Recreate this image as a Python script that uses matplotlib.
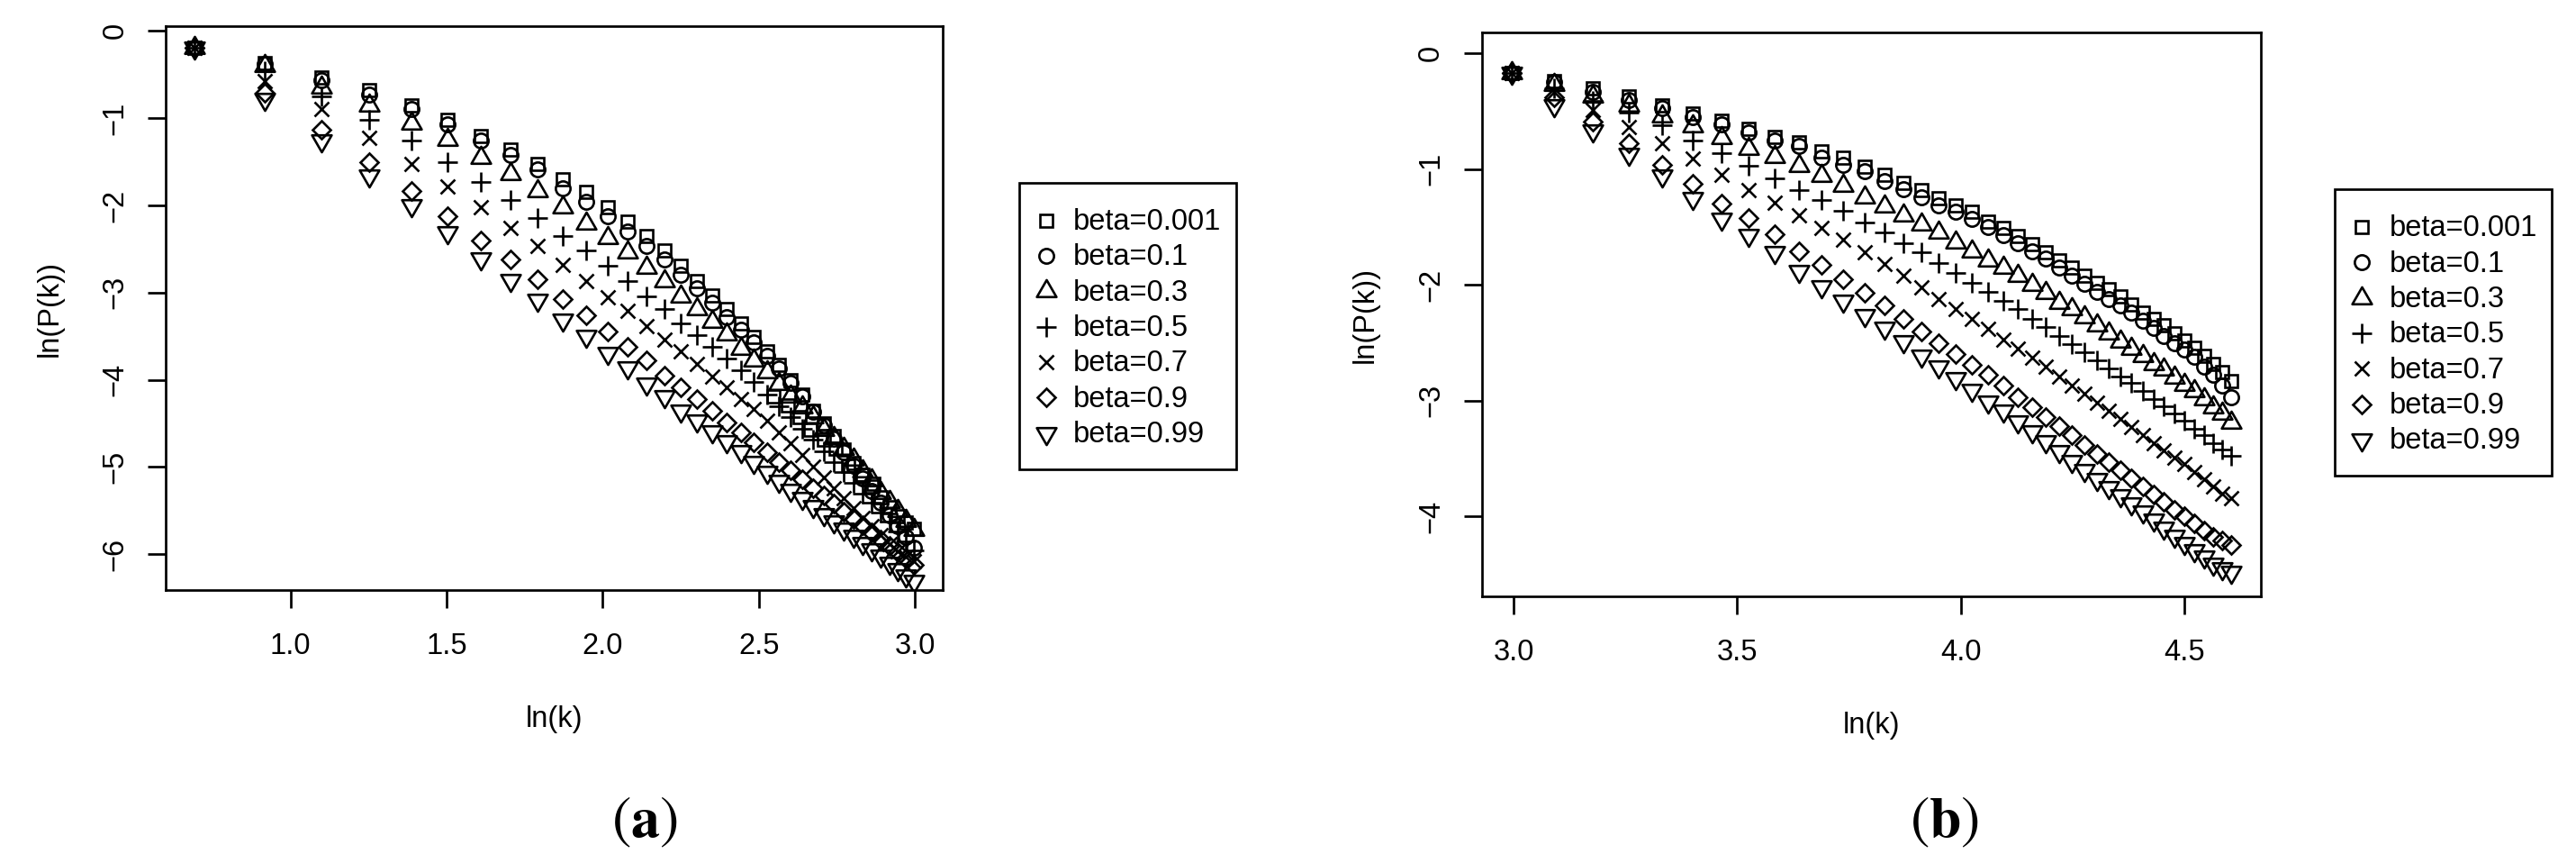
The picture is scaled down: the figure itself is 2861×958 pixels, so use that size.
import numpy as np
import matplotlib
matplotlib.use("Agg")
import matplotlib.pyplot as plt
from matplotlib.lines import Line2D
from matplotlib.patches import Rectangle
from matplotlib.path import Path

plt.rcParams["font.family"] = ["Liberation Sans", "DejaVu Sans"]
plt.rcParams["mathtext.fontset"] = "stix"

W, H, DPI = 2861, 958, 100
FS = 23.5

LABELS = ["beta=0.001", "beta=0.1", "beta=0.3", "beta=0.5",
          "beta=0.7", "beta=0.9", "beta=0.99"]

# ---- panel (a): k = 2 .. 20 ----
K_A = [2, 2.5, 3, 3.5, 4, 4.5, 5, 5.5, 6, 6.5, 7, 7.5, 8, 8.5, 9, 9.5, 10,
       10.5, 11, 11.5, 12, 12.5, 13, 13.5, 14, 14.5, 15, 15.5, 16, 16.5, 17,
       17.5, 18, 18.5, 19, 19.5, 20]
SQ_A = [-0.19, -0.37, -0.53, -0.68, -0.85, -1.02, -1.20, -1.36, -1.52, -1.70,
        -1.85, -2.02, -2.19, -2.35, -2.52, -2.69, -2.87, -3.03, -3.19, -3.35,
        -3.51, -3.67, -3.83, -4.00, -4.17, -4.35, -4.50, -4.64, -4.80, -4.95,
        -5.09, -5.22, -5.35, -5.46, -5.56, -5.64, -5.71]
CI_A = [-0.19, -0.38, -0.56, -0.73, -0.90, -1.07, -1.26, -1.42, -1.59, -1.80,
        -1.96, -2.12, -2.30, -2.47, -2.62, -2.80, -2.95, -3.12, -3.28, -3.43,
        -3.57, -3.72, -3.87, -4.03, -4.19, -4.36, -4.52, -4.67, -4.83, -4.98,
        -5.13, -5.27, -5.41, -5.55, -5.68, -5.80, -5.92]
TR_A = [-0.19, -0.40, -0.645, -0.85, -1.06, -1.25, -1.45, -1.64, -1.83, -2.02,
        -2.21, -2.37, -2.54, -2.71, -2.87, -3.04, -3.19, -3.33, -3.48, -3.64,
        -3.78, -3.915, -4.05, -4.19, -4.31, -4.43, -4.57, -4.66, -4.79, -4.91,
        -5.05, -5.15, -5.29, -5.40, -5.50, -5.61, -5.72]
PL_A = [-0.19, -0.46, -0.75, -1.02, -1.26, -1.50, -1.73, -1.94, -2.14, -2.35,
        -2.52, -2.69, -2.87, -3.04, -3.19, -3.35, -3.49, -3.62, -3.76, -3.89,
        -4.02, -4.17, -4.30, -4.43, -4.56, -4.69, -4.82, -4.94, -5.06, -5.18,
        -5.30, -5.41, -5.52, -5.63, -5.74, -5.85, -5.96]
X_A = [-0.19, -0.575, -0.90, -1.23, -1.52, -1.78, -2.02, -2.26, -2.47, -2.68,
       -2.87, -3.055, -3.21, -3.38, -3.54, -3.675, -3.82, -3.96, -4.09, -4.22,
       -4.33, -4.47, -4.60, -4.73, -4.86, -5.00, -5.12, -5.24, -5.36, -5.47,
       -5.58, -5.68, -5.78, -5.88, -5.97, -6.03, -6.08]
DI_A = [-0.19, -0.71, -1.13, -1.505, -1.83, -2.12, -2.40, -2.62, -2.85, -3.07,
        -3.26, -3.45, -3.62, -3.78, -3.95, -4.09, -4.225, -4.35, -4.485, -4.605,
        -4.72, -4.83, -4.94, -5.04, -5.14, -5.24, -5.33, -5.42, -5.51, -5.59,
        -5.67, -5.75, -5.83, -5.90, -5.98, -6.05, -6.12]
TD_A = [-0.19, -0.78, -1.26, -1.66, -2.00, -2.31, -2.61, -2.86, -3.08, -3.31,
        -3.50, -3.69, -3.86, -4.04, -4.19, -4.35, -4.47, -4.59, -4.71, -4.82,
        -4.94, -5.06, -5.16, -5.26, -5.36, -5.45, -5.54, -5.63, -5.71, -5.79,
        -5.87, -5.95, -6.02, -6.10, -6.17, -6.24, -6.31]
# extra beta=0.001 points off the half-integer grid (read as ln(k) directly)
LNK_SQ_EXTRA = [2.547, 2.593, 2.631, 2.665, 2.708, 2.747, 2.785, 2.829, 2.867]
SQ_EXTRA = [-4.19, -4.29, -4.43, -4.57, -4.69, -4.79, -4.98, -5.09, -5.19]

# ---- panel (b): k = 20 .. 100 ----
K_B = [20, 22, 24, 26, 28, 30, 32, 34, 36, 38, 40, 42, 44, 46, 48, 50, 52, 54,
       56, 58, 60, 62, 64, 66, 68, 70, 72, 74, 76, 78, 80, 82, 84, 86, 88, 90,
       92, 94, 96, 98, 100]
SQ_B = [-0.17, -0.24, -0.30, -0.37, -0.45, -0.52, -0.58, -0.65, -0.72, -0.77,
        -0.85, -0.90, -0.98, -1.05, -1.12, -1.18, -1.25, -1.31, -1.37, -1.45,
        -1.51, -1.58, -1.65, -1.72, -1.79, -1.85, -1.92, -1.98, -2.04, -2.10,
        -2.17, -2.24, -2.29, -2.35, -2.42, -2.48, -2.54, -2.61, -2.68, -2.75,
        -2.83]
CI_B = [-0.17, -0.25, -0.33, -0.40, -0.47, -0.55, -0.61, -0.68, -0.75, -0.80,
        -0.90, -0.96, -1.02, -1.10, -1.17, -1.24, -1.31, -1.37, -1.43, -1.50,
        -1.57, -1.64, -1.71, -1.77, -1.85, -1.92, -1.99, -2.06, -2.12, -2.18,
        -2.24, -2.31, -2.37, -2.44, -2.50, -2.56, -2.62, -2.71, -2.78, -2.87,
        -2.97]
TR_B = [-0.17, -0.27, -0.37, -0.45, -0.54, -0.63, -0.73, -0.82, -0.89, -0.97,
        -1.06, -1.14, -1.24, -1.32, -1.40, -1.48, -1.55, -1.63, -1.71, -1.79,
        -1.85, -1.92, -2.00, -2.07, -2.15, -2.21, -2.28, -2.35, -2.42, -2.49,
        -2.55, -2.61, -2.68, -2.73, -2.80, -2.86, -2.92, -2.99, -3.06, -3.11,
        -3.19]
PL_B = [-0.17, -0.30, -0.41, -0.51, -0.62, -0.75, -0.86, -0.97, -1.08, -1.18,
        -1.27, -1.36, -1.46, -1.55, -1.64, -1.72, -1.81, -1.90, -1.98, -2.06,
        -2.14, -2.21, -2.29, -2.36, -2.44, -2.51, -2.58, -2.65, -2.72, -2.79,
        -2.85, -2.92, -2.99, -3.05, -3.11, -3.17, -3.24, -3.30, -3.37, -3.42,
        -3.48]
X_B = [-0.17, -0.33, -0.49, -0.64, -0.78, -0.91, -1.05, -1.18, -1.29, -1.40,
       -1.51, -1.61, -1.72, -1.82, -1.92, -2.02, -2.12, -2.21, -2.29, -2.38,
       -2.47, -2.55, -2.63, -2.71, -2.79, -2.87, -2.94, -3.02, -3.09, -3.16,
       -3.23, -3.30, -3.37, -3.43, -3.49, -3.55, -3.62, -3.68, -3.74, -3.80,
       -3.84]
DI_B = [-0.17, -0.38, -0.59, -0.78, -0.96, -1.13, -1.30, -1.42, -1.56, -1.71,
        -1.83, -1.95, -2.07, -2.18, -2.29, -2.40, -2.50, -2.60, -2.69, -2.78,
        -2.87, -2.97, -3.06, -3.14, -3.22, -3.30, -3.38, -3.46, -3.53, -3.60,
        -3.67, -3.74, -3.81, -3.87, -3.94, -4.00, -4.06, -4.12, -4.18, -4.21,
        -4.25]
TD_B = [-0.17, -0.45, -0.67, -0.87, -1.06, -1.25, -1.43, -1.57, -1.72, -1.88,
        -2.01, -2.14, -2.26, -2.37, -2.49, -2.61, -2.71, -2.81, -2.91, -3.01,
        -3.09, -3.18, -3.27, -3.35, -3.44, -3.52, -3.60, -3.68, -3.75, -3.82,
        -3.89, -3.96, -4.03, -4.10, -4.17, -4.23, -4.29, -4.35, -4.41, -4.45,
        -4.48]

XTICKS_A = [1.0, 1.5, 2.0, 2.5, 3.0]
YTICKS_A = [0, -1, -2, -3, -4, -5, -6]
XTICKS_B = [3.0, 3.5, 4.0, 4.5]
YTICKS_B = [0, -1, -2, -3, -4]

# R-like open symbols (pch 0..6)
TRI_UP = Path([(0, 1), (-0.866, -0.5), (0.866, -0.5), (0, 0)], closed=True)
TRI_DN = Path([(0, -1), (-0.866, 0.5), (0.866, 0.5), (0, 0)], closed=True)
SYMS = [("s", 10.3), ("o", 11.7), (TRI_UP, 18.1), ("+", 16.4),
        ("x", 11.5), ("D", 10.3), (TRI_DN, 18.1)]
MEW = 1.9


def px_rect(left, right, top, bottom):
    return [left / W, 1 - bottom / H, (right - left) / W, (bottom - top) / H]


def style_axes(ax, xticks, yticks):
    for s in ax.spines.values():
        s.set_linewidth(1.94)
    ax.set_xticks(xticks)
    ax.set_xticklabels(["{:.1f}".format(t) for t in xticks])
    ax.set_yticks(yticks)
    ax.set_yticklabels([str(t).replace("-", "\u2212") for t in yticks])
    ax.tick_params(axis="both", direction="out", length=14.4, width=1.94,
                   labelsize=FS, top=False, right=False)
    ax.tick_params(axis="x", pad=19.2)
    ax.tick_params(axis="y", pad=15.0, labelrotation=90)
    for lab in ax.get_yticklabels():
        lab.set_va("center")
    ax.set_xlabel("ln(k)", fontsize=FS)
    ax.xaxis.set_label_coords(0.5, -0.243)
    ax.xaxis.label.set_va("baseline")
    ax.set_ylabel("ln(P(k))", fontsize=FS)
    ax.yaxis.set_label_coords(-0.14, 0.5)
    ax.yaxis.label.set_va("baseline")


def draw_series(ax, xs, series):
    for ys, (m, ms) in zip(series, SYMS):
        ax.plot(xs, ys, linestyle="none", marker=m, ms=ms, mfc="none",
                mec="black", mew=MEW)


def draw_legend(fig, x0, y0):
    bw, bh = 241, 318
    fig.add_artist(Rectangle((x0 / W, 1 - (y0 + bh) / H), bw / W, bh / H,
                             transform=fig.transFigure, fill=False,
                             ec="black", lw=1.94))
    for i, (lab, (m, ms)) in enumerate(zip(LABELS, SYMS)):
        yc = y0 + 42 + i * 39.3
        fig.add_artist(Line2D([(x0 + 30) / W], [1 - yc / H],
                              transform=fig.transFigure, linestyle="none",
                              marker=m, ms=ms, mfc="none", mec="black",
                              mew=MEW))
        fig.text((x0 + 60.5) / W, 1 - (yc + 10.5) / H, lab, fontsize=FS,
                 ha="left", va="baseline")


fig = plt.figure(figsize=(W / DPI, H / DPI), dpi=DPI)

ax_a = fig.add_axes(px_rect(184.3, 1046.6, 29.3, 655))
lnk_a = np.log(K_A)
draw_series(ax_a, lnk_a, [SQ_A, CI_A, TR_A, PL_A, X_A, DI_A, TD_A])
m, ms = SYMS[0]
ax_a.plot(LNK_SQ_EXTRA, SQ_EXTRA, linestyle="none", marker=m, ms=ms,
          mfc="none", mec="black", mew=MEW)
ax_a.set_xlim(0.601, 3.088)
ax_a.set_ylim(-6.41, 0.052)
style_axes(ax_a, XTICKS_A, YTICKS_A)

ax_b = fig.add_axes(px_rect(1646, 2510.5, 36, 662.3))
lnk_b = np.log(K_B)
draw_series(ax_b, lnk_b, [SQ_B, CI_B, TR_B, PL_B, X_B, DI_B, TD_B])
ax_b.set_xlim(2.9295, 4.670)
ax_b.set_ylim(-4.693, 0.181)
style_axes(ax_b, XTICKS_B, YTICKS_B)

draw_legend(fig, 1131.7, 202.7)
draw_legend(fig, 2593.3, 210)

fig.text(716 / W, 1 - 913 / H, r"$(\mathbf{a})$", fontsize=46,
         ha="center", va="center")
fig.text(2160 / W, 1 - 913 / H, r"$(\mathbf{b})$", fontsize=46,
         ha="center", va="center")

fig.savefig("out.png", dpi=DPI, facecolor="white")
